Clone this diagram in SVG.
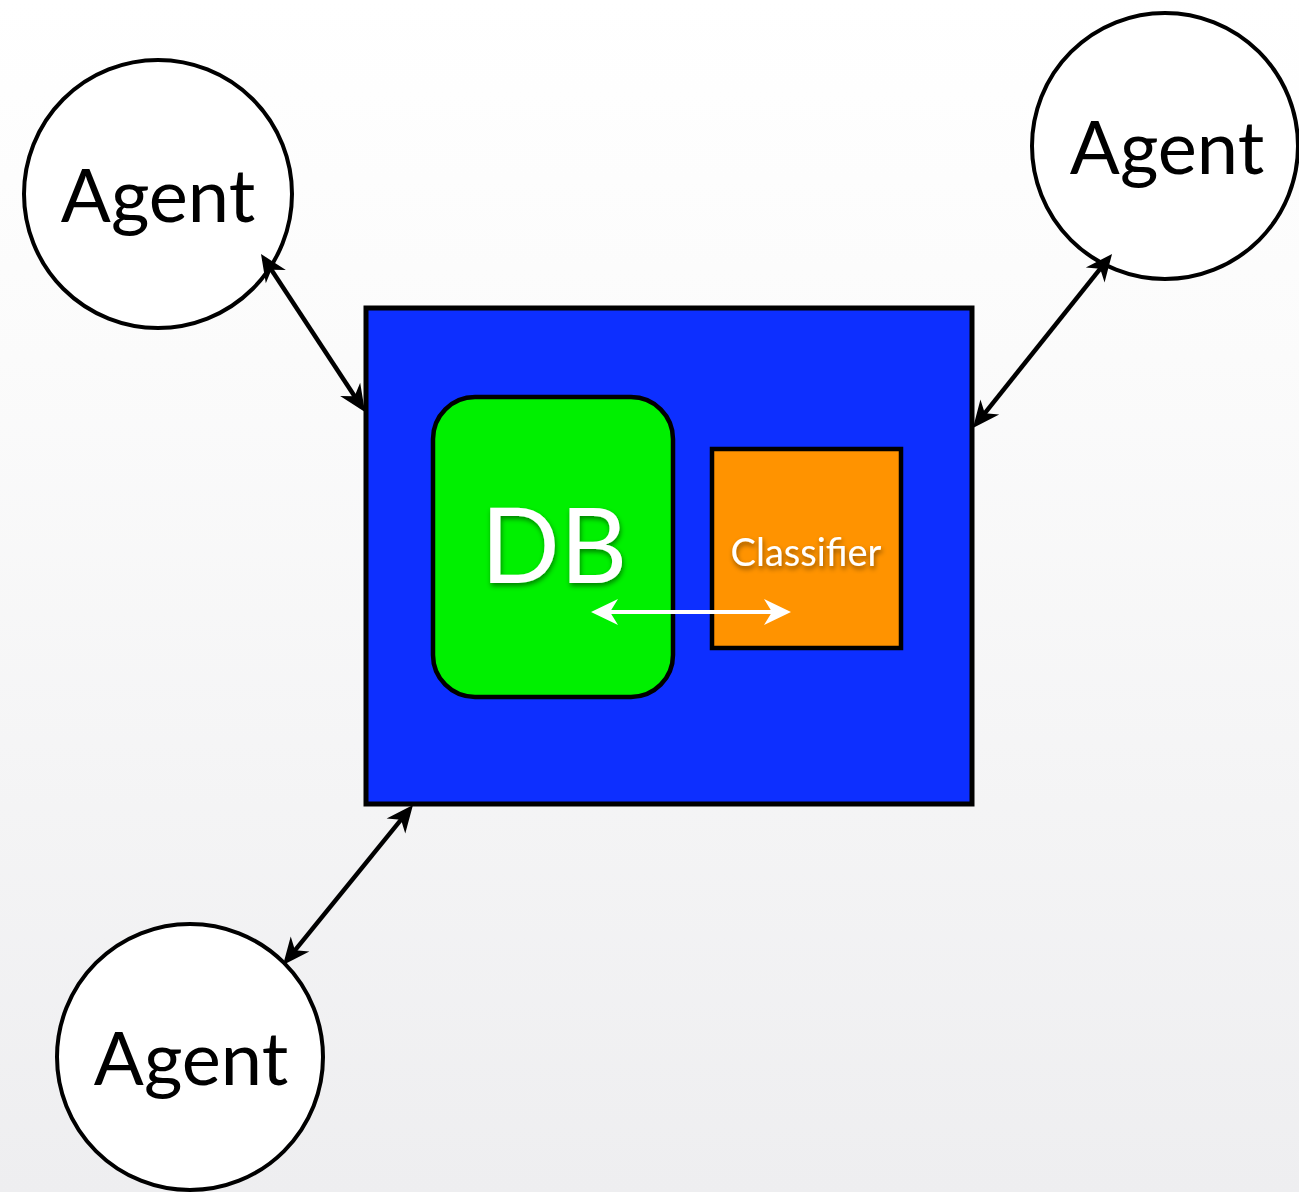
<svg xmlns="http://www.w3.org/2000/svg" width="1299" height="1192" viewBox="0 0 1299 1192">
<defs>
<linearGradient id="bg" x1="0" y1="0" x2="0" y2="1">
<stop offset="0" stop-color="#ffffff"/>
<stop offset="0.3" stop-color="#fbfbfb"/>
<stop offset="1" stop-color="#eeeef0"/>
</linearGradient>
<marker id="ah" viewBox="-30 -14 32 28" refX="-6" refY="0" markerWidth="32" markerHeight="28" markerUnits="userSpaceOnUse" orient="auto-start-reverse">
<path d="M0,0 L-27,-12 L-19,0 L-27,12 Z" fill="#000"/>
</marker>
<marker id="ahw" viewBox="-30 -15 32 30" refX="-6" refY="0" markerWidth="32" markerHeight="30" markerUnits="userSpaceOnUse" orient="auto-start-reverse">
<path d="M0,0 L-27,-13 L-19,0 L-27,13 Z" fill="#fff"/>
</marker>
<filter id="sh" x="-20%" y="-20%" width="140%" height="140%">
<feDropShadow dx="1" dy="3" stdDeviation="2.5" flood-color="#000" flood-opacity="0.45"/>
</filter>
</defs>
<style>
.agent circle{fill:#fff;stroke:#000;stroke-width:4}
.agent text{font-family:Lato,"Open Sans","Liberation Sans",sans-serif;font-size:74px;fill:#000;text-anchor:middle}
.conn line{stroke:#000;stroke-width:4.5;marker-start:url(#ah);marker-end:url(#ah)}
.lbl{font-family:Lato,"Open Sans","Liberation Sans",sans-serif;fill:#fff;text-anchor:middle;filter:url(#sh)}
</style>
<rect x="0" y="0" width="1299" height="1192" fill="url(#bg)"/>
<g id="server">
<rect x="366" y="308" width="606" height="496" fill="#0d2fff" stroke="#000" stroke-width="5"/>
</g>
<g id="db">
<rect x="433" y="397" width="240" height="300" rx="42" ry="42" fill="#00f000" stroke="#000" stroke-width="4.5"/>
<text class="lbl" x="554" y="583" font-size="104">DB</text>
</g>
<g id="classifier">
<rect x="712" y="449" width="189" height="199" fill="#ff9300" stroke="#000" stroke-width="4.5"/>
<text class="lbl" x="806" y="566" font-size="38">Classifier</text>
</g>
<g id="agent1" class="agent">
<circle cx="158" cy="194" r="134"/>
<text x="158" y="222">Agent</text>
</g>
<g id="agent2" class="agent">
<circle cx="1165" cy="146" r="133"/>
<text x="1167" y="174">Agent</text>
</g>
<g id="agent3" class="agent">
<circle cx="190" cy="1057" r="133"/>
<text x="191" y="1085">Agent</text>
</g>
<g id="connectors" class="conn">
<line x1="264.3" y1="259" x2="361.7" y2="407"/>
<line x1="1108.3" y1="258.7" x2="976.7" y2="423.3"/>
<line x1="409.2" y1="809.7" x2="286.8" y2="960.3"/>
<line x1="597" y1="612" x2="785" y2="612" style="stroke:#fff;stroke-width:4;marker-start:url(#ahw);marker-end:url(#ahw)"/>
</g>
</svg>
